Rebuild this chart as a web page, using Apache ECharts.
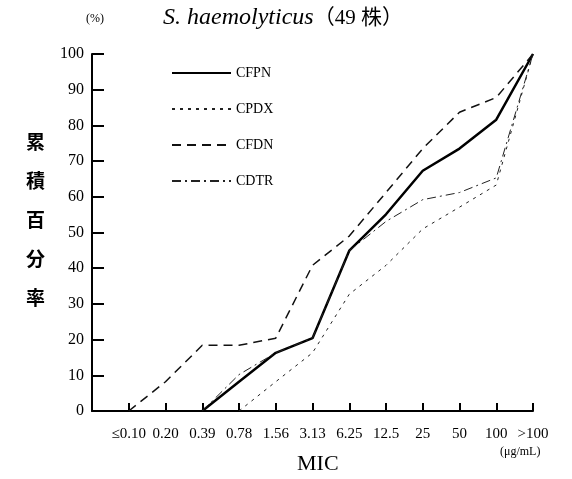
<!DOCTYPE html>
<html>
<head>
<meta charset="utf-8">
<script src="https://cdn.jsdelivr.net/npm/echarts@6/dist/echarts.min.js"></script>
<style>
  html, body { margin: 0; padding: 0; background: #fff; }
  #chart { width: 572px; height: 479px; }
</style>
</head>
<body>
<div id="chart"></div>
<script>
// MIC 区分
var categories = ['≤0.10', '0.20', '0.39', '0.78', '1.56', '3.13', '6.25', '12.5', '25', '50', '100', '>100']
// 累積百分率 (%)
var cfpn = [null, null, 0, 8.2, 16.3, 20.4, 44.9, 55.1, 67.3, 73.5, 81.6, 100]
var cpdx = [null, null, null, 0, 8.2, 16.3, 32.7, 40.8, 51.0, 57.1, 63.3, 100]
var cfdn = [0, 8.2, 18.4, 18.4, 20.4, 40.8, 49.0, 61.2, 73.5, 83.7, 87.8, 100]
var cdtr = [null, null, 0, 10.2, 16.3, 20.4, 44.9, 53.1, 59.2, 61.2, 65.3, 100]
var yTicks = [0, 10, 20, 30, 40, 50, 60, 70, 80, 90, 100]

var serif = '"Liberation Serif", "DejaVu Serif", serif'

function toPairs(arr) {
  return arr.map(function (v, i) { return [i, v] })
}

var chart = echarts.init(document.getElementById('chart'))

var option = {
  animation: false,
  title: {
    text: '{a|S. haemolyticus}{b|（49 株）}',
    left: 158,
    top: 1,
    textStyle: {
      fontWeight: 'normal',
      rich: {
        a: { fontFamily: serif, fontStyle: 'italic', fontWeight: 'normal', fontSize: 24, color: '#000' },
        b: { fontFamily: serif + ', "Noto Sans CJK JP"', fontWeight: 'normal', fontSize: 21, color: '#000' }
      }
    }
  },
  legend: {
    orient: 'vertical',
    left: 166,
    top: 61,
    itemWidth: 59,
    itemHeight: 14,
    itemGap: 22,
    itemStyle: { opacity: 0 },
    textStyle: { fontFamily: serif, fontSize: 14, color: '#000', padding: [0, 0, 0, 0] },
    data: ['CFPN', 'CPDX', 'CFDN', 'CDTR']
  },
  grid: {
    left: 92,
    right: 39,
    top: 54,
    bottom: 68
  },
  xAxis: {
    type: 'value',
    min: -1,
    max: categories.length - 1,
    interval: 1,
    axisLine: { onZero: false, lineStyle: { color: '#000', width: 2 } },
    axisTick: { inside: true, length: 8, lineStyle: { color: '#000', width: 2 } },
    splitLine: { show: false },
    axisLabel: {
      margin: 16,
      fontFamily: serif,
      fontSize: 15,
      color: '#000',
      formatter: function (v) { return categories[v] || '' }
    }
  },
  yAxis: {
    type: 'value',
    min: yTicks[0],
    max: yTicks[yTicks.length - 1],
    interval: 10,
    axisLine: { show: true, onZero: false, lineStyle: { color: '#000', width: 2 } },
    axisTick: { show: true, inside: true, length: 12, lineStyle: { color: '#000', width: 2 } },
    splitLine: { show: false },
    axisLabel: { margin: 8, fontFamily: serif, fontSize: 16, color: '#000' }
  },
  graphic: [
    { type: 'text', left: 86, top: 13, style: { text: '(%)', font: '12px ' + serif, fill: '#000' } },
    {
      type: 'text', left: 26, top: 122,
      style: { text: '累\n積\n百\n分\n率', font: 'bold 19px "Noto Sans CJK JP"', lineHeight: 39, fill: '#000' }
    },
    { type: 'text', left: 297, top: 453, style: { text: 'MIC', font: '22px ' + serif, fill: '#000' } },
    { type: 'text', left: 500, top: 446, style: { text: '(μg/mL)', font: '12px ' + serif, fill: '#000' } }
  ],
  series: [
    {
      name: 'CFPN', type: 'line', symbol: 'none',
      lineStyle: { color: '#000', width: 2.5 },
      itemStyle: { color: '#000' },
      data: toPairs(cfpn)
    },
    {
      name: 'CPDX', type: 'line', symbol: 'none',
      lineStyle: { color: '#222', width: 1, type: [3, 5] },
      itemStyle: { color: '#222' },
      data: toPairs(cpdx)
    },
    {
      name: 'CFDN', type: 'line', symbol: 'none',
      lineStyle: { color: '#111', width: 1.5, type: [9, 6] },
      itemStyle: { color: '#111' },
      data: toPairs(cfdn)
    },
    {
      name: 'CDTR', type: 'line', symbol: 'none',
      lineStyle: { color: '#222', width: 1, type: [9, 4, 2, 4] },
      itemStyle: { color: '#222' },
      data: toPairs(cdtr)
    }
  ]
}

chart.setOption(option)
</script>
</body>
</html>
